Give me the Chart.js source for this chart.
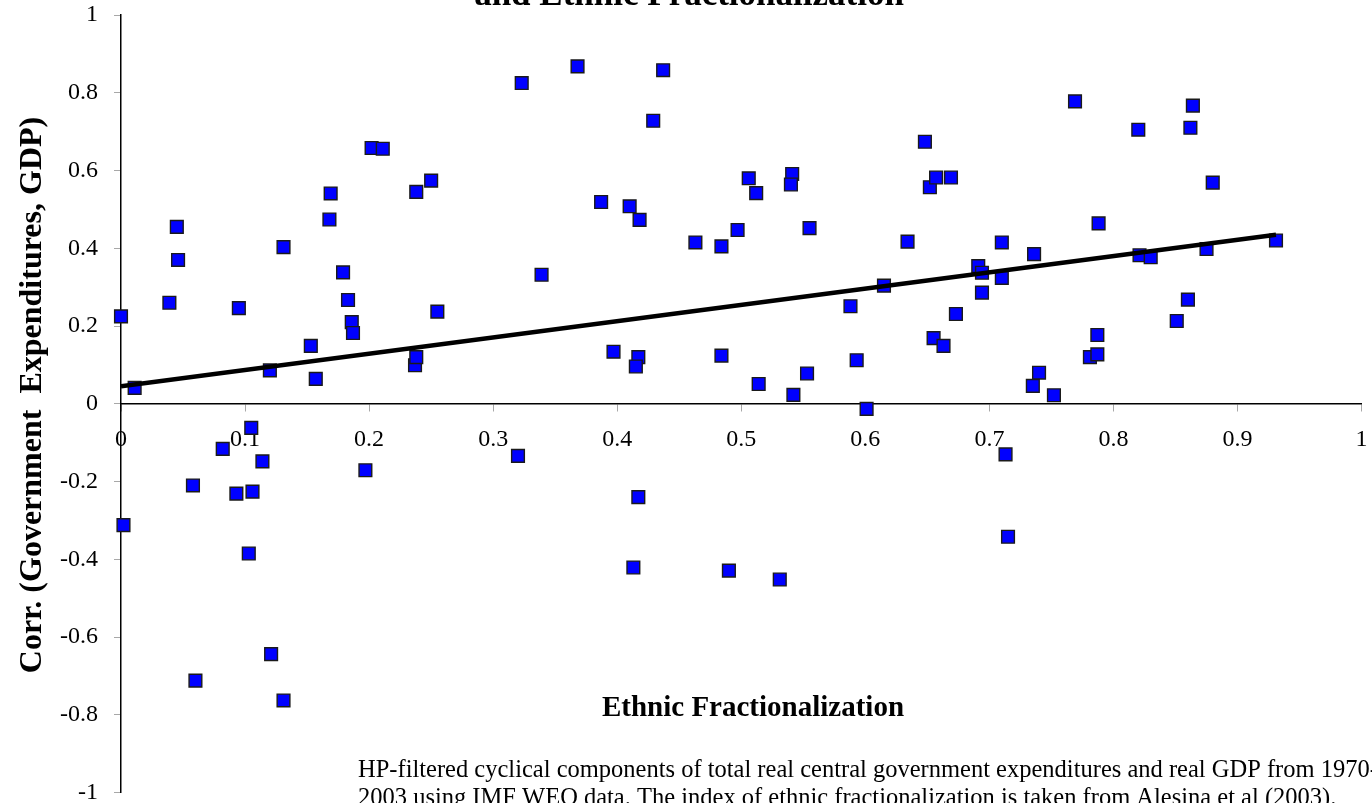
<!DOCTYPE html>
<html>
<head>
<meta charset="utf-8">
<script src="https://cdn.jsdelivr.net/npm/chart.js@4.4.1/dist/chart.umd.min.js"></script>
<style>
  html, body { margin: 0; padding: 0; background: #fff; }
  canvas { display: block; }
</style>
</head>
<body>
<canvas id="chart" width="1372" height="803"></canvas>
<script>
// ethnic fractionalization (x) vs corr(gov. expenditures, GDP) (y)
var ethnicFrac = [
  0.000, 0.011, 0.039, 0.045, 0.046, 0.095, 0.120, 0.131, 0.153, 0.157,
  0.168, 0.169, 0.179, 0.183, 0.186, 0.187, 0.202, 0.211, 0.237, 0.238,
  0.238, 0.250, 0.255, 0.323, 0.339, 0.368, 0.387, 0.397, 0.410, 0.417,
  0.415, 0.418, 0.429, 0.437, 0.463, 0.484, 0.484, 0.497, 0.506, 0.512,
  0.514, 0.541, 0.540, 0.542, 0.553, 0.555, 0.588, 0.593, 0.601, 0.615,
  0.634, 0.648, 0.652, 0.657, 0.655, 0.663, 0.669, 0.673, 0.691, 0.694,
  0.694, 0.710, 0.710, 0.736, 0.735, 0.740, 0.752, 0.769, 0.781, 0.787,
  0.787, 0.788, 0.820, 0.821, 0.830, 0.851, 0.860, 0.862, 0.864, 0.875,
  0.880, 0.931,
  0.105, 0.082, 0.114, 0.197, 0.320, 0.058, 0.093, 0.106, 0.417, 0.002,
  0.103, 0.413, 0.490, 0.121, 0.060, 0.131, 0.713, 0.715, 0.531
];
var govCorr = [
  0.225, 0.041, 0.260, 0.455, 0.370, 0.246, 0.086, 0.403, 0.149, 0.064,
  0.474, 0.541, 0.338, 0.267, 0.210, 0.182, 0.658, 0.656, 0.099, 0.120,
  0.545, 0.574, 0.237, 0.825, 0.332, 0.868, 0.519, 0.134, 0.508, 0.120,
  0.096, 0.473, 0.728, 0.858, 0.415, 0.405, 0.124, 0.447, 0.580, 0.542,
  0.051, 0.591, 0.564, 0.023, 0.078, 0.452, 0.251, 0.112, -0.013, 0.304,
  0.417, 0.674, 0.557, 0.582, 0.169, 0.149, 0.582, 0.231, 0.354, 0.337,
  0.286, 0.415, 0.324, 0.385, 0.046, 0.080, 0.022, 0.778, 0.120, 0.127,
  0.177, 0.464, 0.705, 0.382, 0.377, 0.213, 0.268, 0.710, 0.767, 0.398,
  0.569, 0.420,
  -0.062, -0.116, -0.148, -0.171, -0.134, -0.210, -0.231, -0.226, -0.240, -0.312,
  -0.385, -0.421, -0.429, -0.644, -0.712, -0.763, -0.130, -0.342, -0.452
];
// linear trend line end points
var trendX = [0, 0.931];
var trendY = [0.045, 0.435];

var titleText = 'and Ethnic Fractionalization';
var xTitle = 'Ethnic Fractionalization';
var yTitle = 'Corr. (Government  Expenditures, GDP)';
var noteLines = [
  'HP-filtered cyclical components of total real central government expenditures and real GDP from 1970-',
  '2003 using IMF WEO data. The index of ethnic fractionalization is taken from Alesina et al (2003).'
];

var serif = '"Liberation Serif", "Times New Roman", serif';

function fmt(v) {
  return String(Math.round(v * 10) / 10);
}

var textPlugin = {
  id: 'textPlugin',
  afterDraw: function(chart) {
    var ctx = chart.ctx;
    ctx.save();
    ctx.fillStyle = '#000';
    ctx.textBaseline = 'alphabetic';

    ctx.textAlign = 'center';
    ctx.font = 'bold 35px ' + serif;
    ctx.fillText(titleText, 689, 5);

    ctx.font = 'bold 29px ' + serif;
    ctx.fillText(xTitle, 753, 716);

    ctx.save();
    ctx.translate(33, 395);
    ctx.rotate(-Math.PI / 2);
    ctx.textBaseline = 'middle';
    ctx.font = 'bold 32px ' + serif;
    ctx.fillText(yTitle, 0, 0);
    ctx.restore();

    ctx.textAlign = 'left';
    ctx.font = '24.5px ' + serif;
    ctx.fillText(noteLines[0], 358, 777);
    ctx.fillText(noteLines[1], 358, 805);
    ctx.restore();
  }
};

var ctx = document.getElementById('chart').getContext('2d');
var chart = new Chart(ctx, {
  type: 'scatter',
  data: {
    datasets: [{
      data: trendX.map(function(x, i) { return {x: x, y: trendY[i]}; }),
      showLine: true,
      borderColor: '#000',
      borderWidth: 4.5,
      pointRadius: 0,
      order: 0
    }, {
      data: ethnicFrac.map(function(x, i) { return {x: x, y: govCorr[i]}; }),
      pointStyle: 'rect',
      pointRadius: 9,
      backgroundColor: '#0000ff',
      borderColor: '#1a1a1a',
      borderWidth: 1.4,
      clip: false,
      order: 1
    }]
  },
  plugins: [textPlugin],
  options: {
    responsive: false,
    animation: false,
    devicePixelRatio: 1,
    layout: { padding: { left: 0, right: 6, top: 15, bottom: 10 } },
    plugins: { legend: { display: false }, tooltip: { enabled: false } },
    scales: {
      x: {
        type: 'linear',
        min: 0,
        max: 1,
        position: { y: 0 },
        ticks: {
          stepSize: 0.1,
          autoSkip: false,
          maxRotation: 0,
          padding: 15,
          color: '#000',
          font: { family: serif, size: 24 },
          callback: fmt
        },
        grid: { drawOnChartArea: false, tickLength: 7, color: '#a8a8a8' },
        border: { color: '#000', width: 1.5 },
        afterFit: function(s) { s.height = 0; s.paddingLeft = 0; s.paddingRight = 0; }
      },
      y: {
        min: -1,
        max: 1,
        ticks: {
          stepSize: 0.2,
          padding: 16,
          color: '#000',
          font: { family: serif, size: 24 },
          callback: fmt
        },
        grid: { drawOnChartArea: false, tickLength: 7, color: '#a8a8a8' },
        border: { color: '#000', width: 1.5 },
        afterFit: function(s) { s.width = 121; s.paddingTop = 0; s.paddingBottom = 0; }
      }
    }
  }
});
</script>
</body>
</html>
